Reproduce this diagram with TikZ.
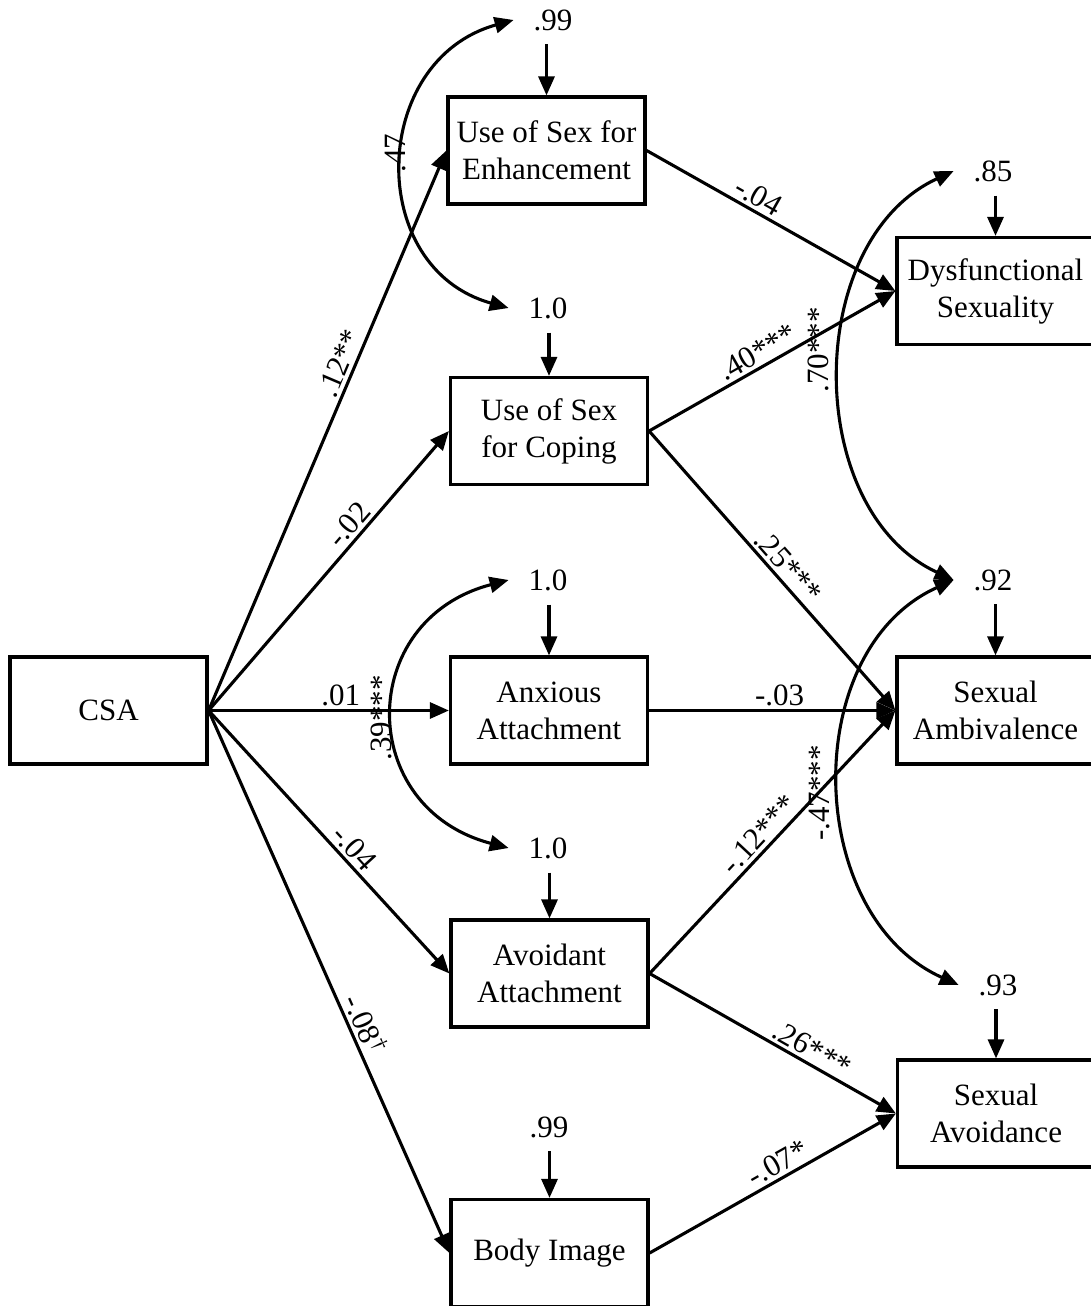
\documentclass[tikz,border=0pt]{standalone}
\usepackage{fontspec}
\setmainfont{Liberation Serif}
\usetikzlibrary{arrows.meta,calc}
\begin{document}
\begin{tikzpicture}[x=1pt,y=-1pt,
  every node/.style={font=\fontsize{31}{37}\selectfont},
  box/.style={draw, line width=3.2pt, minimum width=197pt, minimum height=107pt, align=center, inner sep=0pt},
  lab/.style={inner sep=0pt, outer xsep=20pt, outer ysep=14pt},
  tip/.style={-{Triangle[length=19pt,width=16pt]}},
  arr/.style={line width=3.1pt, tip},
  cor/.style={line width=3.1pt, {Triangle[length=19pt,width=16pt]}-{Triangle[length=19pt,width=16pt]}},
  el/.style={sloped, above, inner sep=3pt},
  vlab/.style={rotate=90, inner sep=0pt}]
\useasboundingbox (0,0) rectangle (1091,1306);
% boxes
\node[box] (csa) at (108.5,710.5) {CSA};
\node[box] (enh) at (546.5,150.5) {Use of Sex for\\Enhancement};
\node[box] (cop) at (549,431) {Use of Sex\\for Coping};
\node[box] (anx) at (549,710.5) {Anxious\\Attachment};
\node[box] (avo) at (549.5,973.5) {Avoidant\\Attachment};
\node[box] (body) at (549.5,1253) {Body Image};
\node[box] (dys) at (995.5,291) {Dysfunctional\\Sexuality};
\node[box] (amb) at (995.5,710.5) {Sexual\\Ambivalence};
\node[box] (sav) at (996,1113.5) {Sexual\\Avoidance};
% error variances
\node[lab] (e1) at (553,20) {.99};
\node[lab] (e2) at (548,308) {1.0};
\node[lab] (e3) at (548,580) {1.0};
\node[lab] (e4) at (548,848) {1.0};
\node[lab] (e5) at (549,1127) {.99};
\node[lab] (e6) at (993,171) {.85};
\node[lab] (e7) at (993,580) {.92};
\node[lab] (e8) at (998,985) {.93};
\foreach \e/\b in {e1/enh,e2/cop,e3/anx,e4/avo,e5/body,e6/dys,e7/amb,e8/sav}
  \draw[arr] (\e.south -| \b.north) -- (\b.north);
% correlations
\draw[cor] (e1.west) .. controls +(-144,40) and +(-144,-40) .. (e2.west);
\draw[cor] (e3.west) .. controls +(-153,40) and +(-153,-40) .. (e4.west);
\draw[cor] (e6.west) .. controls +(-151,70) and +(-151,-70) .. (e7.west);
\draw[cor] (e7.west) .. controls +(-155,70) and +(-155,-70) .. (e8.west);
\node[vlab] (c1) at (396,153) {.47};
\node[vlab] (c2) at (381,718) {.39***};
\node[vlab] (c3) at (818,350) {.70***};
\node[vlab] (c4) at (820,793) {-.47***};
% paths from CSA
\draw[arr] (csa.east) -- node[el, pos=0.61] {.12**} (enh.west);
\draw[arr] (csa.east) -- node[el, pos=0.63] {-.02} (cop.west);
\draw[arr] (csa.east) -- node[el, pos=0.55] {.01} (anx.west);
\draw[arr] (csa.east) -- node[el, pos=0.56] {-.04} (avo.west);
\draw[arr] (csa.east) -- node[el, pos=0.59] {-.08\textsuperscript{†}} (body.west);
% paths to outcomes
\draw[arr] (enh.east) -- node[el, pos=0.42] {-.04} (dys.west);
\draw[arr] (cop.east) -- node[el, pos=0.47] {.40***} (dys.west);
\draw[arr] (cop.east) -- node[el, pos=0.52] {.25***} (amb.west);
\draw[arr] (anx.east) -- node[el, pos=0.53] {-.03} (amb.west);
\draw[arr] (avo.east) -- node[el, pos=0.49] {-.12***} (amb.west);
\draw[arr] (avo.east) -- node[el, pos=0.63] {.26***} (sav.west);
\draw[arr] (body.east) -- node[el, pos=0.55] {-.07*} (sav.west);
\end{tikzpicture}
\end{document}
